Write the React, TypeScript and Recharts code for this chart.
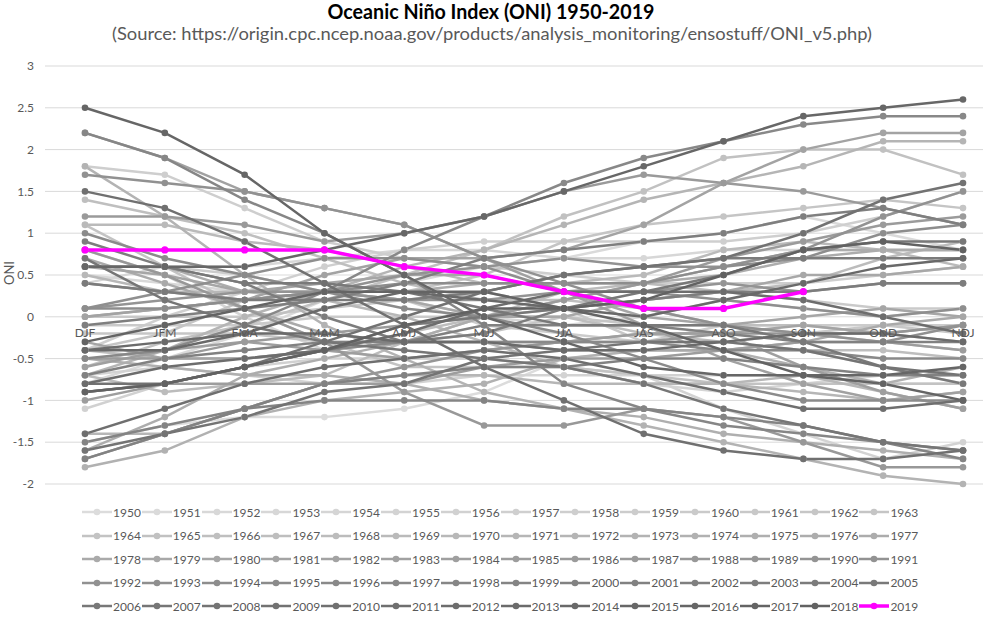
import { CartesianGrid, Line, LineChart, ReferenceDot, XAxis, YAxis } from 'recharts';

const seasons = ['DJF', 'JFM', 'FMA', 'MAM', 'AMJ', 'MJJ', 'JJA', 'JAS', 'ASO', 'SON', 'OND', 'NDJ'];
const yTicks = [-2, -1.5, -1, -0.5, 0, 0.5, 1, 1.5, 2, 2.5, 3];

const oni1950 = [-1.5, -1.3, -1.2, -1.2, -1.1, -0.9, -0.5, -0.4, -0.4, -0.4, -0.6, -0.8];
const oni1951 = [-0.8, -0.5, -0.2, 0.2, 0.4, 0.6, 0.7, 0.9, 1.0, 1.2, 1.0, 0.8];
const oni1952 = [0.5, 0.4, 0.3, 0.3, 0.2, 0.0, -0.1, 0.0, 0.2, 0.1, 0.0, 0.1];
const oni1953 = [0.4, 0.6, 0.6, 0.7, 0.8, 0.8, 0.7, 0.7, 0.8, 0.8, 0.8, 0.8];
const oni1954 = [0.8, 0.5, 0.0, -0.4, -0.5, -0.5, -0.6, -0.8, -0.9, -0.8, -0.7, -0.7];
const oni1955 = [-0.7, -0.6, -0.7, -0.8, -0.8, -0.7, -0.7, -0.7, -1.1, -1.4, -1.7, -1.5];
const oni1956 = [-1.1, -0.8, -0.6, -0.5, -0.5, -0.5, -0.6, -0.7, -0.7, -0.7, -0.8, -0.8];
const oni1957 = [-0.4, 0.0, 0.3, 0.6, 0.8, 0.9, 0.9, 0.9, 0.9, 1.0, 1.2, 1.5];
const oni1958 = [1.8, 1.7, 1.3, 0.9, 0.7, 0.6, 0.5, 0.4, 0.4, 0.4, 0.5, 0.6];
const oni1959 = [0.6, 0.6, 0.5, 0.3, 0.2, -0.1, -0.2, -0.3, -0.1, -0.1, -0.1, -0.1];
const oni1960 = [-0.1, -0.1, -0.1, 0.0, 0.0, 0.0, 0.1, 0.2, 0.3, 0.2, 0.1, 0.1];
const oni1961 = [0.0, 0.0, 0.0, 0.1, 0.2, 0.3, 0.1, -0.3, -0.3, -0.2, -0.1, -0.2];
const oni1962 = [-0.2, -0.2, -0.2, -0.3, -0.3, -0.2, 0.0, -0.1, -0.1, -0.2, -0.3, -0.4];
const oni1963 = [-0.4, -0.2, 0.2, 0.3, 0.3, 0.5, 0.9, 1.1, 1.2, 1.3, 1.4, 1.3];
const oni1964 = [1.1, 0.6, 0.1, -0.3, -0.6, -0.6, -0.6, -0.7, -0.8, -0.8, -0.8, -0.8];
const oni1965 = [-0.6, -0.3, -0.1, 0.2, 0.5, 0.8, 1.2, 1.5, 1.9, 2.0, 2.0, 1.7];
const oni1966 = [1.4, 1.2, 1.0, 0.7, 0.4, 0.2, 0.2, 0.1, -0.1, -0.1, -0.2, -0.3];
const oni1967 = [-0.4, -0.5, -0.5, -0.4, -0.2, 0.0, 0.0, -0.2, -0.3, -0.4, -0.4, -0.5];
const oni1968 = [-0.7, -0.9, -0.8, -0.7, -0.3, 0.0, 0.3, 0.4, 0.3, 0.4, 0.7, 0.9];
const oni1969 = [1.1, 1.1, 0.9, 0.8, 0.6, 0.4, 0.4, 0.5, 0.8, 0.9, 0.8, 0.6];
const oni1970 = [0.5, 0.3, 0.3, 0.2, 0.0, -0.3, -0.6, -0.8, -0.8, -0.7, -0.9, -1.1];
const oni1971 = [-1.4, -1.4, -1.1, -0.8, -0.7, -0.7, -0.8, -0.8, -0.8, -0.9, -1.0, -0.9];
const oni1972 = [-0.7, -0.4, 0.0, 0.3, 0.6, 0.8, 1.1, 1.4, 1.6, 1.8, 2.1, 2.1];
const oni1973 = [1.8, 1.2, 0.5, -0.1, -0.5, -0.9, -1.1, -1.3, -1.5, -1.7, -1.9, -2.0];
const oni1974 = [-1.8, -1.6, -1.2, -1.0, -0.9, -0.8, -0.5, -0.4, -0.4, -0.6, -0.8, -0.6];
const oni1975 = [-0.5, -0.6, -0.7, -0.7, -0.8, -1.0, -1.1, -1.2, -1.4, -1.5, -1.6, -1.7];
const oni1976 = [-1.6, -1.2, -0.7, -0.5, -0.3, 0.0, 0.2, 0.4, 0.6, 0.8, 0.8, 0.8];
const oni1977 = [0.6, 0.6, 0.3, 0.3, 0.3, 0.4, 0.4, 0.4, 0.5, 0.7, 0.8, 0.8];
const oni1978 = [0.7, 0.4, 0.1, -0.2, -0.3, -0.3, -0.4, -0.4, -0.4, -0.3, -0.1, 0.0];
const oni1979 = [0.0, 0.1, 0.2, 0.3, 0.2, 0.0, 0.0, 0.2, 0.3, 0.5, 0.5, 0.6];
const oni1980 = [0.6, 0.5, 0.3, 0.4, 0.5, 0.5, 0.3, 0.0, -0.1, 0.0, 0.1, 0.0];
const oni1981 = [-0.3, -0.5, -0.5, -0.4, -0.3, -0.3, -0.3, -0.2, -0.2, -0.1, -0.2, -0.1];
const oni1982 = [0.0, 0.1, 0.2, 0.5, 0.7, 0.7, 0.8, 1.1, 1.6, 2.0, 2.2, 2.2];
const oni1983 = [2.2, 1.9, 1.5, 1.3, 1.1, 0.7, 0.3, -0.1, -0.5, -0.8, -1.0, -0.9];
const oni1984 = [-0.6, -0.4, -0.3, -0.4, -0.5, -0.4, -0.3, -0.2, -0.2, -0.6, -0.9, -1.1];
const oni1985 = [-1.0, -0.8, -0.8, -0.8, -0.8, -0.6, -0.5, -0.5, -0.4, -0.3, -0.3, -0.4];
const oni1986 = [-0.5, -0.5, -0.3, -0.2, -0.1, 0.0, 0.2, 0.4, 0.7, 0.9, 1.1, 1.2];
const oni1987 = [1.2, 1.2, 1.1, 0.9, 1.0, 1.2, 1.5, 1.7, 1.6, 1.5, 1.3, 1.1];
const oni1988 = [0.8, 0.5, 0.1, -0.3, -0.9, -1.3, -1.3, -1.1, -1.2, -1.5, -1.8, -1.8];
const oni1989 = [-1.7, -1.4, -1.1, -0.8, -0.6, -0.4, -0.3, -0.3, -0.2, -0.2, -0.2, -0.1];
const oni1990 = [0.1, 0.2, 0.3, 0.3, 0.2, 0.2, 0.3, 0.3, 0.4, 0.3, 0.4, 0.4];
const oni1991 = [0.4, 0.3, 0.2, 0.3, 0.5, 0.6, 0.7, 0.6, 0.6, 0.8, 1.2, 1.5];
const oni1992 = [1.7, 1.6, 1.5, 1.3, 1.1, 0.7, 0.4, 0.1, -0.1, -0.2, -0.3, -0.1];
const oni1993 = [0.1, 0.3, 0.5, 0.7, 0.7, 0.6, 0.3, 0.3, 0.2, 0.1, 0.0, 0.1];
const oni1994 = [0.1, 0.1, 0.2, 0.3, 0.4, 0.4, 0.4, 0.4, 0.6, 0.7, 1.0, 1.1];
const oni1995 = [1.0, 0.7, 0.5, 0.3, 0.1, 0.0, -0.2, -0.5, -0.8, -1.0, -1.0, -1.0];
const oni1996 = [-0.9, -0.8, -0.6, -0.4, -0.3, -0.3, -0.3, -0.3, -0.4, -0.4, -0.5, -0.5];
const oni1997 = [-0.5, -0.4, -0.1, 0.3, 0.8, 1.2, 1.6, 1.9, 2.1, 2.3, 2.4, 2.4];
const oni1998 = [2.2, 1.9, 1.4, 1.0, 0.5, -0.1, -0.8, -1.1, -1.3, -1.4, -1.5, -1.6];
const oni1999 = [-1.5, -1.3, -1.1, -1.0, -1.0, -1.0, -1.1, -1.1, -1.2, -1.3, -1.5, -1.7];
const oni2000 = [-1.7, -1.4, -1.1, -0.8, -0.7, -0.6, -0.6, -0.5, -0.5, -0.6, -0.7, -0.7];
const oni2001 = [-0.7, -0.5, -0.4, -0.3, -0.3, -0.1, -0.1, -0.1, -0.2, -0.3, -0.3, -0.3];
const oni2002 = [-0.1, 0.0, 0.1, 0.2, 0.4, 0.7, 0.8, 0.9, 1.0, 1.2, 1.3, 1.1];
const oni2003 = [0.9, 0.6, 0.4, 0.0, -0.3, -0.2, 0.1, 0.2, 0.3, 0.3, 0.4, 0.4];
const oni2004 = [0.4, 0.3, 0.2, 0.2, 0.2, 0.3, 0.5, 0.6, 0.7, 0.7, 0.7, 0.7];
const oni2005 = [0.6, 0.6, 0.4, 0.4, 0.3, 0.1, -0.1, -0.1, -0.1, -0.3, -0.6, -0.8];
const oni2006 = [-0.9, -0.8, -0.6, -0.4, -0.1, 0.0, 0.1, 0.3, 0.5, 0.8, 0.9, 0.9];
const oni2007 = [0.7, 0.2, -0.1, -0.3, -0.4, -0.5, -0.6, -0.8, -1.1, -1.3, -1.5, -1.6];
const oni2008 = [-1.6, -1.4, -1.2, -0.9, -0.8, -0.5, -0.4, -0.3, -0.3, -0.4, -0.6, -0.7];
const oni2009 = [-0.8, -0.8, -0.6, -0.3, 0.0, 0.3, 0.5, 0.6, 0.7, 1.0, 1.4, 1.6];
const oni2010 = [1.5, 1.3, 0.9, 0.4, -0.1, -0.6, -1.0, -1.4, -1.6, -1.7, -1.7, -1.6];
const oni2011 = [-1.4, -1.1, -0.8, -0.6, -0.5, -0.4, -0.5, -0.7, -0.9, -1.1, -1.1, -1.0];
const oni2012 = [-0.8, -0.6, -0.5, -0.4, -0.2, 0.1, 0.3, 0.3, 0.3, 0.2, 0.0, -0.2];
const oni2013 = [-0.4, -0.3, -0.2, -0.2, -0.3, -0.3, -0.4, -0.4, -0.3, -0.2, -0.2, -0.3];
const oni2014 = [-0.4, -0.4, -0.2, 0.1, 0.3, 0.2, 0.1, 0.0, 0.2, 0.4, 0.6, 0.7];
const oni2015 = [0.6, 0.6, 0.6, 0.8, 1.0, 1.2, 1.5, 1.8, 2.1, 2.4, 2.5, 2.6];
const oni2016 = [2.5, 2.2, 1.7, 1.0, 0.5, 0.0, -0.3, -0.6, -0.7, -0.7, -0.7, -0.6];
const oni2017 = [-0.3, -0.1, 0.1, 0.3, 0.3, 0.3, 0.1, -0.1, -0.4, -0.7, -0.8, -1.0];
const oni2018 = [-0.9, -0.8, -0.6, -0.4, -0.1, 0.1, 0.1, 0.2, 0.5, 0.8, 0.9, 0.8];
const oni2019 = [0.8, 0.8, 0.8, 0.8, 0.6, 0.5, 0.3, 0.1, 0.1, 0.3, null, null];

const yearSeries = [
  oni1950, oni1951, oni1952, oni1953, oni1954, oni1955, oni1956, oni1957, oni1958, oni1959,
  oni1960, oni1961, oni1962, oni1963, oni1964, oni1965, oni1966, oni1967, oni1968, oni1969,
  oni1970, oni1971, oni1972, oni1973, oni1974, oni1975, oni1976, oni1977, oni1978, oni1979,
  oni1980, oni1981, oni1982, oni1983, oni1984, oni1985, oni1986, oni1987, oni1988, oni1989,
  oni1990, oni1991, oni1992, oni1993, oni1994, oni1995, oni1996, oni1997, oni1998, oni1999,
  oni2000, oni2001, oni2002, oni2003, oni2004, oni2005, oni2006, oni2007, oni2008, oni2009,
  oni2010, oni2011, oni2012, oni2013, oni2014, oni2015, oni2016, oni2017, oni2018, oni2019,
];
const years = yearSeries.map((_, i) => String(1950 + i));

const data = seasons.map((season, s) => {
  const row: Record<string, string | number | null> = { season };
  years.forEach((y, i) => {
    row[y] = yearSeries[i][s];
  });
  return row;
});

// light grey for the oldest years, darker towards the recent ones, magenta for 2019
function colorFor(i: number) {
  if (i === years.length - 1) return '#ff00ff';
  const v = Math.round(220 - (i * (220 - 98)) / (years.length - 2));
  return `rgb(${v},${v},${v})`;
}

const font = 'Lato, "Open Sans", sans-serif';

function LegendBlock() {
  return (
    <div style={{ position: 'absolute', left: 82, top: 500, width: 900 }}>
      {years.map((y, i) => {
        const col = i % 14;
        const row = Math.floor(i / 14);
        const c = colorFor(i);
        const last = i === years.length - 1;
        return (
          <div
            key={y}
            style={{
              position: 'absolute',
              left: col * 59.8,
              top: row * 23.5,
              height: 24,
              display: 'flex',
              alignItems: 'center',
              fontFamily: font,
              fontSize: 12,
              color: '#595959',
            }}
          >
            <svg width={30} height={10} style={{ marginRight: 1 }}>
              <line x1={0} y1={5} x2={30} y2={5} stroke={c} strokeWidth={last ? 3.5 : 2.5} />
              <circle cx={15} cy={5} r={3.3} fill={c} />
            </svg>
            <span>{y}</span>
          </div>
        );
      })}
    </div>
  );
}

export default function App() {
  return (
    <div style={{ position: 'absolute', left: 0, top: 0, width: 983, height: 617, background: '#fff', overflow: 'hidden' }}>
      <svg width={983} height={60} style={{ position: 'absolute', left: 0, top: 0 }}>
        <text x={491} y={19} textAnchor="middle" fontFamily={font} fontWeight={700} fontSize={20} fill="#000" textLength={327} lengthAdjust="spacingAndGlyphs">
          Oceanic Niño Index (ONI) 1950-2019
        </text>
        <text x={492} y={40} textAnchor="middle" fontFamily={font} fontSize={17} fill="#595959" textLength={760} lengthAdjust="spacingAndGlyphs">
          (Source: https://origin.cpc.ncep.noaa.gov/products/analysis_monitoring/ensostuff/ONI_v5.php)
        </text>
      </svg>
      <div style={{ position: 'absolute', left: 0, top: 0 }}>
        <LineChart width={983} height={500} data={data} margin={{ top: 66, right: 0, bottom: 16, left: 0 }}>
          <CartesianGrid vertical={false} stroke="#d9d9d9" />
          <XAxis dataKey="season" hide padding={{ left: 40, right: 20 }} />
          <YAxis
            width={45}
            domain={[-2, 3]}
            ticks={yTicks}
            axisLine={false}
            tickLine={false}
            tickSize={0}
            tickMargin={11}
            tick={{ fill: '#595959', fontSize: 12, fontFamily: font }}
          />
          {seasons.map((s) => (
            <ReferenceDot
              key={s}
              x={s}
              y={0}
              r={0}
              fill="none"
              stroke="none"
              label={{ value: s, position: 'bottom', offset: 12, fill: '#595959', fontSize: 12, fontFamily: font }}
            />
          ))}
          {years.map((y, i) => {
            const c = colorFor(i);
            const last = i === years.length - 1;
            return (
              <Line
                key={y}
                dataKey={y}
                stroke={c}
                strokeWidth={last ? 3.5 : 2.5}
                dot={{ r: last ? 3.6 : 3.3, fill: c, stroke: c, strokeWidth: 0 }}
                activeDot={false}
                isAnimationActive={false}
                connectNulls={false}
              />
            );
          })}
        </LineChart>
      </div>
      <svg width={24} height={617} style={{ position: 'absolute', left: 0, top: 0 }}>
        <text x={14} y={273} transform="rotate(-90 14 273)" textAnchor="middle" fontFamily={font} fontSize={13} fill="#595959">
          ONI
        </text>
      </svg>
      <LegendBlock />
    </div>
  );
}
